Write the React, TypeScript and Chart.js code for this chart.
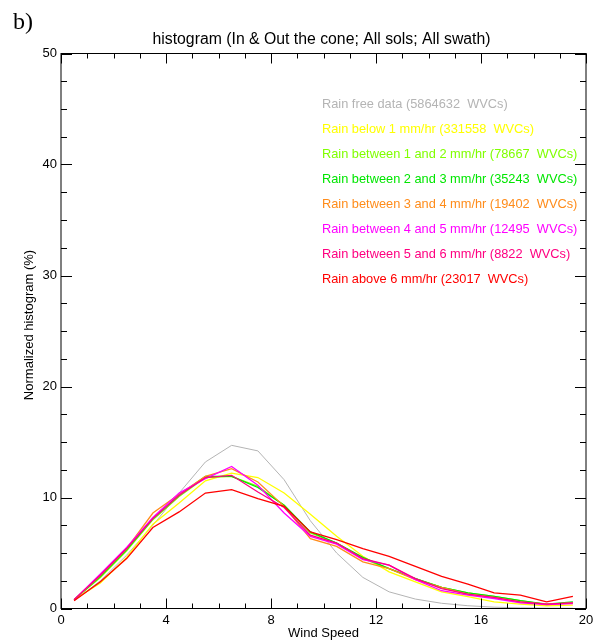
import React, { useEffect, useRef } from "react";
import { Chart, registerables } from "chart.js";

Chart.register(...registerables);

const windSpeed = [0.5, 1.5, 2.5, 3.5, 4.5, 5.5, 6.5, 7.5, 8.5, 9.5, 10.5, 11.5, 12.5, 13.5, 14.5, 15.5, 16.5, 17.5, 18.5, 19.5];

const rainFree = [0.7, 2.5, 4.8, 7.5, 10.4, 13.2, 14.7, 14.2, 11.6, 7.9, 5.0, 2.8, 1.5, 0.85, 0.47, 0.25, 0.12, 0.06, 0.03, 0.02];
const rainBelow1 = [0.8, 2.3, 4.6, 7.6, 9.5, 11.5, 12.2, 11.8, 10.4, 8.5, 6.5, 4.7, 3.3, 2.4, 1.5, 1.06, 0.6, 0.4, 0.25, 0.3];
const rain1to2 = [0.8, 2.8, 5.2, 8.0, 10.1, 11.8, 11.9, 11.0, 9.3, 6.8, 5.9, 4.5, 3.6, 2.7, 1.9, 1.4, 1.1, 0.7, 0.35, 0.5];
const rain2to3 = [0.8, 2.9, 5.3, 8.1, 10.2, 11.9, 11.9, 10.9, 9.3, 6.9, 5.9, 4.6, 3.6, 2.7, 1.9, 1.4, 1.1, 0.7, 0.4, 0.6];
const rain3to4 = [0.8, 3.0, 5.4, 8.6, 10.3, 11.9, 12.6, 11.4, 9.2, 6.3, 5.6, 4.2, 3.6, 2.6, 1.9, 1.3, 1.0, 0.6, 0.4, 0.5];
const rain4to5 = [0.8, 3.1, 5.5, 8.2, 10.4, 11.7, 12.8, 11.1, 8.6, 6.5, 5.8, 4.4, 3.9, 2.6, 1.6, 1.2, 0.9, 0.5, 0.35, 0.45];
const rain5to6 = [0.8, 3.0, 5.4, 8.1, 10.2, 11.8, 12.0, 10.5, 9.1, 6.6, 5.9, 4.5, 3.9, 2.7, 1.8, 1.3, 1.0, 0.6, 0.4, 0.5];
const rainAbove6 = [0.7, 2.4, 4.5, 7.3, 8.7, 10.4, 10.7, 9.9, 9.2, 6.9, 6.2, 5.4, 4.7, 3.8, 2.9, 2.2, 1.4, 1.2, 0.6, 1.1];

const seriesLabels = [
  "Rain free data (5864632  WVCs)",
  "Rain below 1 mm/hr (331558  WVCs)",
  "Rain between 1 and 2 mm/hr (78667  WVCs)",
  "Rain between 2 and 3 mm/hr (35243  WVCs)",
  "Rain between 3 and 4 mm/hr (19402  WVCs)",
  "Rain between 4 and 5 mm/hr (12495  WVCs)",
  "Rain between 5 and 6 mm/hr (8822  WVCs)",
  "Rain above 6 mm/hr (23017  WVCs)",
];
const seriesColors = ["#b4b4b4", "#ffff00", "#80ff00", "#00e600", "#ff8c1a", "#ff00ff", "#ff0080", "#ff0000"];
const seriesValues = [rainFree, rainBelow1, rain1to2, rain2to3, rain3to4, rain4to5, rain5to6, rainAbove6];

const titleText = "histogram (In & Out the cone; All sols; All swath)";
const xTitle = "Wind Speed";
const yTitle = "Normalized histogram (%)";
const panelLabel = "b)";

const FONT = "'Liberation Sans', Arial, sans-serif";

const framePlugin = {
  id: "framePlugin",
  afterDraw(chart: any) {
    const { ctx, chartArea } = chart;
    const { left, right, top, bottom } = chartArea;
    const xs = chart.scales.x;
    const ys = chart.scales.y;
    ctx.save();
    ctx.strokeStyle = "#000";
    ctx.lineWidth = 1;
    ctx.strokeRect(left, top, right - left, bottom - top);
    ctx.beginPath();
    for (let v = 0; v <= 20; v += 1) {
      const px = Math.round(xs.getPixelForValue(v)) + 0.5;
      const len = v % 4 === 0 ? 10 : 5;
      ctx.moveTo(px, bottom);
      ctx.lineTo(px, bottom - len);
      ctx.moveTo(px, top);
      ctx.lineTo(px, top + len);
    }
    for (let v = 0; v <= 50; v += 2.5) {
      const py = Math.round(ys.getPixelForValue(v)) + 0.5;
      const len = v % 10 === 0 ? 11 : 6;
      ctx.moveTo(left, py);
      ctx.lineTo(left + len, py);
      ctx.moveTo(right, py);
      ctx.lineTo(right - len, py);
    }
    ctx.stroke();

    // title
    ctx.fillStyle = "#000";
    ctx.font = `15.8px ${FONT}`;
    ctx.textAlign = "center";
    ctx.textBaseline = "middle";
    ctx.fillText(titleText, (left + right) / 2 - 2, 40);
    // x title
    ctx.font = `13px ${FONT}`;
    ctx.fillText(xTitle, (left + right) / 2, 633);
    // y title
    ctx.save();
    ctx.translate(29, 325);
    ctx.rotate(-Math.PI / 2);
    ctx.fillText(yTitle, 0, 0);
    ctx.restore();
    // panel label
    ctx.font = `24px 'Liberation Serif', 'Times New Roman', serif`;
    ctx.textAlign = "left";
    ctx.textBaseline = "alphabetic";
    ctx.fillText(panelLabel, 13, 29);

    // legend
    ctx.font = `12.8px ${FONT}`;
    ctx.textBaseline = "middle";
    seriesLabels.forEach((lab, i) => {
      ctx.fillStyle = seriesColors[i];
      ctx.fillText(lab, 322, 104 + i * 25);
    });
    ctx.restore();
  },
};

export default function App() {
  const canvasRef = useRef<HTMLCanvasElement | null>(null);
  useEffect(() => {
    const canvas = canvasRef.current;
    if (!canvas) return;
    const n = seriesValues.length;
    const chart = new Chart(canvas, {
      type: "line",
      data: {
        datasets: seriesValues.map((vals, i) => ({
          label: seriesLabels[i],
          data: windSpeed.map((x, j) => ({ x, y: vals[j] })),
          borderColor: seriesColors[i],
          backgroundColor: seriesColors[i],
          borderWidth: i === 0 ? 1 : 1.3,
          pointRadius: 0,
          tension: 0,
          fill: false,
          order: n - i,
        })),
      },
      plugins: [framePlugin],
      options: {
        animation: false,
        responsive: false,
        maintainAspectRatio: false,
        layout: { padding: { top: 53.5, right: 12, left: 0, bottom: 0 } },
        plugins: {
          legend: { display: false },
          title: { display: false },
          tooltip: { enabled: false },
        },
        scales: {
          x: {
            type: "linear",
            min: 0,
            max: 20,
            ticks: { stepSize: 4, color: "#000", font: { family: FONT, size: 13 }, padding: 4, maxRotation: 0 },
            grid: { display: false, drawTicks: false },
            border: { display: false },
            afterFit: (s: any) => {
              s.height = 34.5;
            },
          },
          y: {
            type: "linear",
            min: 0,
            max: 50,
            ticks: { stepSize: 10, color: "#000", font: { family: FONT, size: 13 }, padding: 4 },
            grid: { display: false, drawTicks: false },
            border: { display: false },
            afterFit: (s: any) => {
              s.width = 61;
            },
          },
        },
      },
    });
    return () => chart.destroy();
  }, []);
  return (
    <div style={{ position: "absolute", left: 0, top: 0, width: 598, height: 643, background: "#fff" }}>
      <canvas ref={canvasRef} width={598} height={643} style={{ width: 598, height: 643, display: "block" }} />
    </div>
  );
}
